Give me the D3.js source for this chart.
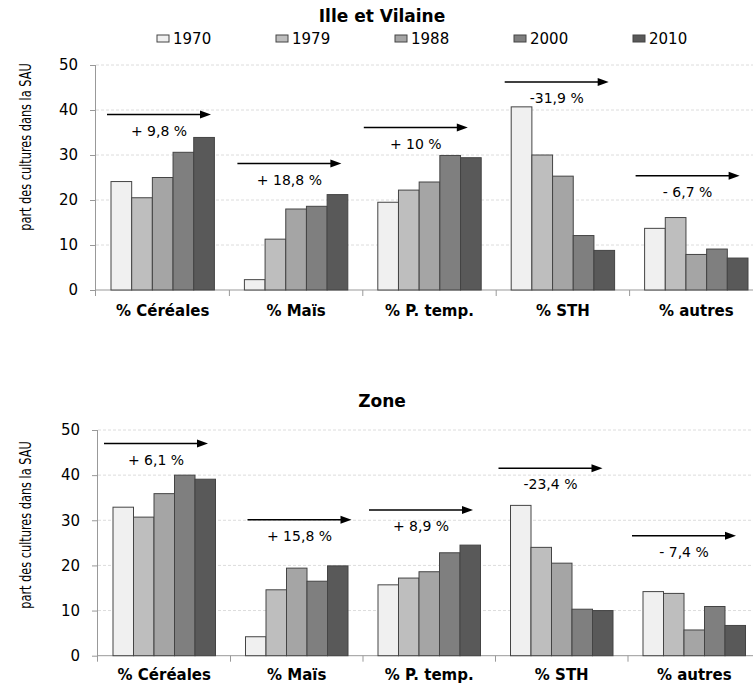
<!DOCTYPE html>
<html>
<head>
<meta charset="utf-8">
<script src="https://cdn.jsdelivr.net/npm/d3@7"></script>
<style>
  body { margin: 0; background: #fff; }
  text { font-family: "DejaVu Sans", Verdana, sans-serif; fill: #000; }
  .ylab { font-family: "Liberation Sans Narrow", "DejaVu Sans Condensed", sans-serif; font-size: 15px; }
</style>
</head>
<body>
<div id="chart"></div>
<script>
// DATA
const categories = ["% Céréales", "% Maïs", "% P. temp.", "% STH", "% autres"];
const years = ["1970", "1979", "1988", "2000", "2010"];
const yTicks = [0, 10, 20, 30, 40, 50];

// Ille et Vilaine, one array per year (order = categories)
const ille1970 = [24.1, 2.3, 19.5, 40.7, 13.7];
const ille1979 = [20.5, 11.3, 22.2, 30.0, 16.1];
const ille1988 = [25.0, 18.0, 24.0, 25.3, 7.9];
const ille2000 = [30.6, 18.6, 29.9, 12.1, 9.1];
const ille2010 = [33.9, 21.2, 29.4, 8.8, 7.1];
const illeChange = ["+ 9,8 %", "+ 18,8 %", "+ 10 %", "-31,9 %", "- 6,7 %"];

// Zone
const zone1970 = [32.9, 4.2, 15.7, 33.3, 14.2];
const zone1979 = [30.7, 14.6, 17.2, 24.0, 13.8];
const zone1988 = [35.9, 19.4, 18.6, 20.5, 5.7];
const zone2000 = [40.0, 16.5, 22.8, 10.3, 10.9];
const zone2010 = [39.1, 19.9, 24.5, 10.0, 6.7];
const zoneChange = ["+ 6,1 %", "+ 15,8 %", "+ 8,9 %", "-23,4 %", "- 7,4 %"];

const colors = ["#f0f0f0", "#bebebe", "#a5a5a5", "#7f7f7f", "#595959"];

const width = 753, height = 686;

const svg = d3.select("#chart")
    .append("svg")
    .attr("width", width)
    .attr("height", height);

function buildRows(series) {
    return categories.map(function(c, i) {
        return { cat: c, vals: years.map(function(y, j) { return { year: y, v: series[j][i] }; }) };
    });
}

// one chart panel
function drawPanel(cfg) {
    const g = svg.append("g");

    const x = d3.scaleBand()
        .domain(categories)
        .range([cfg.left, cfg.right]);

    const xIn = d3.scaleBand()
        .domain(years)
        .range([15, x.bandwidth() - 15]);

    const y = d3.scaleLinear()
        .domain([0, 50])
        .range([cfg.bottom, cfg.top]);

    // gridlines
    g.selectAll(".grid")
        .data(yTicks.filter(function(d) { return d > 0; }))
        .enter()
        .append("line")
            .attr("x1", cfg.left)
            .attr("x2", width)
            .attr("y1", function(d) { return y(d); })
            .attr("y2", function(d) { return y(d); })
            .attr("stroke", "#dcdcdc")
            .attr("stroke-dasharray", "3,2");

    // y axis
    const yAxis = g.append("g")
        .attr("transform", `translate(${cfg.left},0)`)
        .call(d3.axisLeft(y).tickValues(yTicks).tickSize(6).tickPadding(12));
    yAxis.select(".domain").attr("stroke", "#999").attr("d", `M-0.5,${cfg.top}V${cfg.bottom + 6}`);
    yAxis.selectAll(".tick line").attr("stroke", "#999");
    yAxis.selectAll("text").attr("font-size", 15).attr("font-family", "DejaVu Sans").attr("fill", "#000");

    // x axis
    const xAxis = g.append("g")
        .attr("transform", `translate(0,${cfg.bottom})`);
    xAxis.append("line")
        .attr("x1", cfg.left).attr("x2", width)
        .attr("stroke", "#999");
    xAxis.selectAll(".sep")
        .data(categories.slice(1))
        .enter()
        .append("line")
            .attr("x1", function(d) { return x(d); })
            .attr("x2", function(d) { return x(d); })
            .attr("y1", 0).attr("y2", 6)
            .attr("stroke", "#999");
    xAxis.selectAll(".cat")
        .data(categories)
        .enter()
        .append("text")
            .attr("x", function(d) { return x(d) + x.bandwidth() / 2; })
            .attr("y", cfg.labelDy)
            .attr("text-anchor", "middle")
            .attr("font-size", 15)
            .attr("font-weight", "bold")
            .text(function(d) { return d; });

    // bars
    const groups = g.selectAll(".grp")
        .data(buildRows(cfg.series))
        .enter()
        .append("g")
            .attr("transform", function(d) { return `translate(${x(d.cat)},0)`; });

    groups.selectAll("rect")
        .data(function(d) { return d.vals; })
        .enter()
        .append("rect")
            .attr("x", function(d) { return xIn(d.year); })
            .attr("y", function(d) { return y(d.v); })
            .attr("width", xIn.bandwidth())
            .attr("height", function(d) { return cfg.bottom - y(d.v); })
            .attr("fill", function(d, i) { return colors[i]; })
            .attr("stroke", "#444")
            .attr("stroke-width", 1);

    // arrows + change labels
    categories.forEach(function(c, i) {
        const ay = y(cfg.arrowLevel[i]);
        const x0 = x(c) + cfg.arrowStart[i];
        const x1 = x0 + 104;
        g.append("line")
            .attr("x1", x0).attr("x2", x1 - 9)
            .attr("y1", ay).attr("y2", ay)
            .attr("stroke", "#000")
            .attr("stroke-width", 1.5);
        g.append("path")
            .attr("d", `M${x1},${ay}L${x1 - 11},${ay - 4}L${x1 - 11},${ay + 4}Z`)
            .attr("fill", "#000");
        g.append("text")
            .attr("x", (x0 + x1) / 2)
            .attr("y", ay + 21)
            .attr("text-anchor", "middle")
            .attr("font-size", 14)
            .text(cfg.change[i]);
    });

    // title
    g.append("text")
        .attr("x", 382)
        .attr("y", cfg.titleY)
        .attr("text-anchor", "middle")
        .attr("font-size", 17)
        .attr("font-weight", "bold")
        .text(cfg.title);

    // y label (condensed look)
    g.append("text")
        .attr("class", "ylab")
        .attr("transform", `translate(31,${cfg.ylabMid}) rotate(-90) scale(0.84,1)`)
        .attr("text-anchor", "middle")
        .text("part des cultures dans la SAU");
}

drawPanel({
    title: "Ille et Vilaine",
    titleY: 22,
    left: 96, right: 763, top: 65, bottom: 290,
    labelDy: 26,
    ylabMid: 147,
    series: [ille1970, ille1979, ille1988, ille2000, ille2010],
    change: illeChange,
    arrowLevel: [39.0, 28.1, 36.1, 46.2, 25.4],
    arrowStart: [11, 8, 1, 8.5, 6]
});

drawPanel({
    title: "Zone",
    titleY: 407,
    left: 98, right: 760.5, top: 430, bottom: 655.7,
    labelDy: 24,
    ylabMid: 525,
    series: [zone1970, zone1979, zone1988, zone2000, zone2010],
    change: zoneChange,
    arrowLevel: [47.0, 30.1, 32.3, 41.5, 26.6],
    arrowStart: [6, 17, 6, 3, 4]
});

// LEGEND (top chart only)
const legend = svg.append("g")
    .selectAll("g")
    .data(years)
    .enter()
    .append("g")
        .attr("transform", function(d, i) { return `translate(${157 + i * 119},35)`; });

legend.append("rect")
    .attr("width", 12).attr("height", 7)
    .attr("fill", function(d, i) { return colors[i]; })
    .attr("stroke", "#444");

legend.append("text")
    .attr("x", 16)
    .attr("y", 9)
    .attr("font-size", 15)
    .text(function(d) { return d; });
</script>
</body>
</html>
